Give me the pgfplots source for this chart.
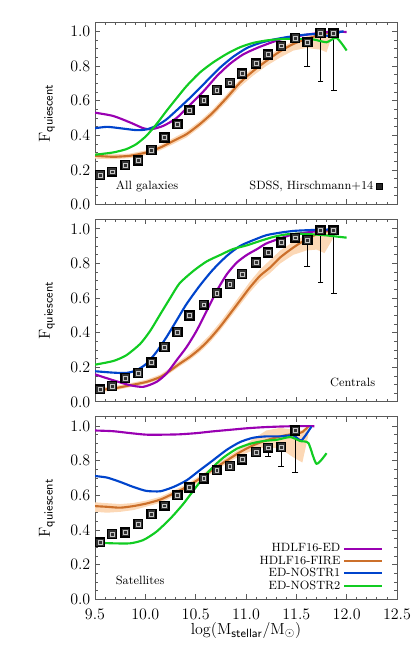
\documentclass[border=0pt]{standalone}
\usepackage{pgfplots}
\usepackage{pgfplotstable}
\pgfplotsset{compat=1.18}

\definecolor{cpurple}{RGB}{153,0,178}
\definecolor{corange}{RGB}{204,112,43}
\definecolor{cblue}{RGB}{0,68,204}
\definecolor{cgreen}{RGB}{17,204,34}
\definecolor{cband}{RGB}{252,216,182}

% SDSS points (Hirschmann+14): x, y, lower error
\pgfplotstableread{
x y em
9.55 0.171 0
9.67 0.190 0
9.80 0.228 0
9.93 0.255 0
10.06 0.315 0
10.19 0.387 0
10.32 0.464 0
10.44 0.545 0
10.58 0.602 0
10.71 0.662 0
10.84 0.704 0
10.96 0.758 0
11.10 0.815 0
11.22 0.867 0
11.35 0.917 0
11.49 0.963 0.02
11.61 0.938 0.138
11.74 0.991 0.282
11.87 0.990 0.328
}\sqall
\pgfplotstableread{
x y em
9.55 0.073 0
9.67 0.092 0
9.80 0.138 0
9.93 0.167 0
10.06 0.227 0
10.19 0.317 0
10.32 0.403 0
10.44 0.499 0
10.58 0.562 0
10.71 0.629 0
10.84 0.681 0
10.96 0.739 0
11.10 0.806 0
11.22 0.863 0
11.35 0.921 0
11.49 0.949 0.02
11.61 0.936 0.155
11.74 0.992 0.303
11.87 0.992 0.365
}\sqcen
\pgfplotstableread{
x y em
9.55 0.329 0
9.67 0.377 0
9.80 0.385 0
9.93 0.434 0
10.06 0.492 0
10.19 0.540 0
10.32 0.601 0
10.44 0.646 0
10.58 0.697 0
10.71 0.745 0
10.84 0.770 0
10.96 0.808 0
11.10 0.850 0.01
11.22 0.876 0.05
11.35 0.879 0.111
11.49 0.975 0.24
}\sqsat

\pgfplotsset{
  panel/.style={
    scale only axis, width=226.5pt, height=136.9pt,
    xmin=9.5, xmax=12.5, ymin=0, ymax=1.055,
    xtick={9.5,10,10.5,11,11.5,12,12.5},
    ytick={0,0.2,0.4,0.6,0.8,1.0},
    minor x tick num=4, minor y tick num=3,
    axis line style={black!65, line width=0.7pt},
    tick style={black!65, line width=0.6pt},
    major tick length=3.8pt, minor tick length=2pt,
    tick label style={font=\fontsize{12}{14}\selectfont},
    yticklabel style={/pgf/number format/fixed, /pgf/number format/precision=1,
      /pgf/number format/fixed zerofill},
    xticklabel style={/pgf/number format/fixed, /pgf/number format/precision=1,
      /pgf/number format/fixed zerofill, yshift=-4pt},
    ylabel={$\mathrm{F}_{\mathsf{quiescent}}$},
    every axis y label/.style={at={([xshift=-36pt]axis description cs:0,0.5)},
      rotate=90, anchor=center, font=\fontsize{12.5}{14}\selectfont},
    every axis x label/.style={at={([yshift=-23.4pt]axis description cs:0.5,0)},
      anchor=center, font=\fontsize{12.5}{14}\selectfont},
    legend plot pos=right,
  },
  sq/.style={only marks, mark=square*, mark size=3.3pt,
    mark options={fill=black!80, draw=black, line width=1.1pt},
    error bars/y dir=minus, error bars/y explicit,
    error bars/error mark=-,
    error bars/error bar style={black, line width=0.6pt},
    error bars/error mark options={black, rotate=90, mark size=2.2pt, line width=0.6pt}},
  sqin/.style={only marks, mark=square, mark size=1.4pt,
    mark options={draw=gray!45, line width=0.4pt}},
  mline/.style={line width=1.6pt, forget plot, smooth, tension=0.4},
}

\begin{document}
\begin{tikzpicture}
\useasboundingbox (0,0) rectangle (311.25pt,-495pt);

% ---------------- All galaxies
\begin{axis}[panel, at={(71.25pt,-16.5pt)}, anchor=north west, xticklabels={},
  legend style={draw=none, fill=none, at={(axis description cs:0.965,0.10)},
    anchor=east, font=\small},
  legend image code/.code={\draw[#1] plot coordinates {(0.15cm,0cm)};}]
\addplot[fill=cband, draw=none, forget plot] coordinates {
(9.50,0.297)(9.68,0.290)(9.85,0.295)(10.01,0.314)(10.15,0.345)(10.28,0.385)(10.41,0.425)
(10.54,0.482)(10.67,0.550)(10.81,0.638)(10.94,0.724)(11.07,0.792)(11.20,0.850)(11.34,0.905)
(11.47,0.945)(11.60,0.972)(11.74,0.992)(11.87,1.003)
(11.87,0.985)(11.84,0.95)(11.80,0.88)(11.74,0.895)(11.60,0.905)(11.47,0.89)(11.34,0.85)
(11.20,0.80)(11.07,0.745)(10.94,0.68)(10.81,0.596)(10.67,0.51)(10.54,0.445)(10.41,0.388)
(10.28,0.350)(10.15,0.314)(10.01,0.287)(9.85,0.268)(9.68,0.262)(9.50,0.265)} -- cycle;
\addplot[mline, corange] coordinates {
(9.50,0.282)(9.68,0.276)(9.85,0.282)(10.01,0.301)(10.15,0.330)(10.28,0.368)(10.41,0.407)
(10.54,0.464)(10.67,0.531)(10.81,0.618)(10.94,0.704)(11.07,0.771)(11.20,0.829)(11.34,0.886)
(11.47,0.928)(11.60,0.957)(11.74,0.982)(11.84,0.997)(11.87,1.0)};
\addplot[forget plot, sq] table[x=x, y=y, y error minus=em] {\sqall};
\addplot[forget plot, sqin] table[x=x, y=y] {\sqall};
\addplot[mline, cpurple] coordinates {
(9.50,0.531)(9.68,0.512)(9.85,0.474)(9.98,0.441)(10.06,0.435)(10.18,0.455)(10.31,0.50)
(10.44,0.574)(10.58,0.656)(10.71,0.742)(10.84,0.813)(10.97,0.867)(11.11,0.905)(11.24,0.934)
(11.37,0.959)(11.50,0.972)(11.64,0.985)(11.77,0.995)(11.87,1.0)(12.0,0.997)};
\addplot[mline, cblue] coordinates {
(9.50,0.441)(9.62,0.449)(9.75,0.441)(9.91,0.430)(10.01,0.434)(10.11,0.455)(10.21,0.492)
(10.34,0.560)(10.48,0.637)(10.61,0.714)(10.74,0.79)(10.87,0.853)(11.01,0.905)(11.14,0.934)
(11.27,0.953)(11.40,0.967)(11.53,0.978)(11.67,0.985)(11.80,0.976)(11.87,0.972)(11.93,0.997)(11.97,1.0)};
\addplot[mline, cgreen] coordinates {
(9.50,0.288)(9.68,0.301)(9.81,0.320)(9.91,0.349)(10.01,0.397)(10.11,0.464)(10.21,0.541)
(10.31,0.614)(10.41,0.685)(10.54,0.762)(10.67,0.82)(10.81,0.871)(10.94,0.909)(11.07,0.934)
(11.20,0.948)(11.34,0.956)(11.50,0.958)(11.67,0.954)(11.80,0.938)(11.90,0.963)(12.0,0.89)};
\addlegendimage{only marks, mark=square*, mark size=2.3pt, mark options={fill=black!85, draw=black}}
\addlegendentry{SDSS, Hirschmann+14}
\node[anchor=west, font=\small] at (axis cs:9.66,0.105) {All galaxies};
\end{axis}

% ---------------- Centrals
\begin{axis}[panel, at={(71.25pt,-164.5pt)}, anchor=north west, xticklabels={}]
\addplot[fill=cband, draw=none, forget plot] coordinates {
(9.50,0.08)(9.68,0.09)(9.85,0.108)(10.01,0.128)(10.15,0.158)(10.25,0.197)(10.34,0.237)
(10.44,0.278)(10.54,0.328)(10.64,0.388)(10.74,0.458)(10.84,0.535)(10.94,0.615)(11.04,0.695)
(11.14,0.765)(11.24,0.82)(11.34,0.875)(11.47,0.925)(11.60,0.965)(11.70,0.985)(11.78,0.992)(11.87,1.0)
(11.87,0.95)(11.78,0.86)(11.70,0.88)(11.60,0.875)(11.47,0.85)(11.34,0.80)(11.24,0.745)
(11.14,0.70)(11.04,0.635)(10.94,0.56)(10.84,0.485)(10.74,0.41)(10.64,0.343)(10.54,0.287)
(10.44,0.242)(10.34,0.205)(10.25,0.168)(10.15,0.132)(10.01,0.103)(9.85,0.085)(9.68,0.065)(9.50,0.055)} -- cycle;
\addplot[mline, corange] coordinates {
(9.50,0.067)(9.68,0.077)(9.85,0.096)(10.01,0.115)(10.15,0.144)(10.25,0.182)(10.34,0.22)
(10.44,0.259)(10.54,0.306)(10.64,0.364)(10.74,0.432)(10.84,0.508)(10.94,0.585)(11.04,0.662)
(11.14,0.729)(11.24,0.777)(11.34,0.835)(11.47,0.892)(11.60,0.94)(11.74,0.978)(11.87,0.992)};
\addplot[forget plot, sq] table[x=x, y=y, y error minus=em] {\sqcen};
\addplot[forget plot, sqin] table[x=x, y=y] {\sqcen};
\addplot[mline, cpurple] coordinates {
(9.50,0.159)(9.68,0.125)(9.85,0.096)(9.98,0.087)(10.11,0.115)(10.21,0.163)(10.31,0.240)
(10.41,0.317)(10.51,0.412)(10.61,0.527)(10.71,0.642)(10.81,0.738)(10.91,0.806)(11.01,0.850)
(11.11,0.883)(11.20,0.915)(11.34,0.945)(11.47,0.968)(11.64,0.982)(11.80,0.992)(11.90,0.992)};
\addplot[mline, cblue] coordinates {
(9.50,0.177)(9.68,0.169)(9.81,0.167)(9.91,0.182)(10.01,0.220)(10.11,0.288)(10.21,0.374)
(10.31,0.470)(10.41,0.566)(10.54,0.671)(10.67,0.763)(10.81,0.844)(10.94,0.901)(11.07,0.934)
(11.20,0.963)(11.34,0.978)(11.47,0.988)(11.60,0.992)(11.74,0.995)(11.90,0.997)};
\addplot[mline, cgreen] coordinates {
(9.50,0.215)(9.68,0.236)(9.81,0.269)(9.95,0.336)(10.05,0.412)(10.15,0.508)(10.25,0.603)
(10.34,0.685)(10.48,0.758)(10.61,0.812)(10.74,0.848)(10.87,0.883)(11.01,0.905)(11.14,0.930)
(11.27,0.953)(11.40,0.968)(11.53,0.972)(11.67,0.968)(11.80,0.962)(12.0,0.949)};
\node[anchor=east, font=\small] at (axis cs:12.33,0.11) {Centrals};
\end{axis}

% ---------------- Satellites
\begin{axis}[panel, at={(71.25pt,-312.5pt)}, anchor=north west,
  xlabel={$\log(\mathrm{M}_{\mathsf{stellar}}/\mathrm{M}_{\odot})$},
  legend style={draw=none, fill=none, at={(axis description cs:0.955,0.32)},
    anchor=north east, font=\small, row sep=-2.5pt, inner sep=0pt},
  legend cell align=right,
  legend image code/.code={\draw[#1] (0cm,0cm) -- (1cm,0cm);}]
\addplot[fill=cband, draw=none, forget plot] coordinates {
(9.50,0.56)(9.62,0.555)(9.75,0.55)(9.88,0.556)(10.01,0.57)(10.15,0.592)(10.28,0.627)
(10.41,0.665)(10.54,0.713)(10.67,0.765)(10.81,0.82)(10.94,0.87)(11.07,0.925)(11.20,0.975)
(11.34,0.99)(11.47,0.98)(11.56,0.975)(11.62,1.0)
(11.62,0.95)(11.56,0.79)(11.47,0.82)(11.34,0.87)(11.20,0.88)(11.07,0.86)(10.94,0.83)
(10.81,0.785)(10.67,0.732)(10.54,0.68)(10.41,0.632)(10.28,0.594)(10.15,0.558)(10.01,0.535)
(9.88,0.515)(9.75,0.505)(9.62,0.50)(9.50,0.505)} -- cycle;
\addplot[mline, corange] coordinates {
(9.50,0.538)(9.62,0.534)(9.75,0.529)(9.88,0.538)(10.01,0.553)(10.15,0.576)(10.28,0.611)
(10.41,0.649)(10.54,0.697)(10.67,0.749)(10.81,0.802)(10.94,0.85)(11.07,0.889)(11.20,0.918)
(11.34,0.941)(11.47,0.956)(11.53,0.96)(11.56,0.966)(11.62,0.998)};
\addplot[forget plot, sq] table[x=x, y=y, y error minus=em] {\sqsat};
\addplot[forget plot, sqin] table[x=x, y=y] {\sqsat};
\addplot[mline, cpurple] coordinates {
(9.50,0.975)(9.68,0.971)(9.85,0.96)(10.01,0.951)(10.18,0.951)(10.34,0.953)(10.51,0.96)
(10.67,0.97)(10.84,0.979)(11.01,0.988)(11.17,0.994)(11.34,0.998)(11.50,1.0)(11.68,1.0)};
\addplot[mline, cblue] coordinates {
(9.50,0.712)(9.62,0.703)(9.75,0.678)(9.88,0.649)(10.01,0.626)(10.15,0.624)(10.28,0.649)
(10.41,0.687)(10.54,0.745)(10.67,0.802)(10.81,0.864)(10.94,0.908)(11.07,0.933)(11.20,0.941)
(11.34,0.941)(11.47,0.947)(11.55,0.918)(11.65,0.998)};
\addplot[mline, cgreen] coordinates {
(9.50,0.327)(9.68,0.323)(9.85,0.323)(9.98,0.342)(10.11,0.39)(10.25,0.467)(10.38,0.553)
(10.51,0.653)(10.64,0.745)(10.77,0.816)(10.91,0.87)(11.04,0.898)(11.17,0.914)(11.31,0.922)
(11.44,0.937)(11.54,0.914)(11.62,0.902)(11.70,0.783)(11.80,0.844)};
\addlegendimage{cpurple, line width=1.6pt}
\addlegendentry{HDLF16-ED}
\addlegendimage{corange, line width=1.6pt}
\addlegendentry{HDLF16-FIRE}
\addlegendimage{cblue, line width=1.6pt}
\addlegendentry{ED-NOSTR1}
\addlegendimage{cgreen, line width=1.6pt}
\addlegendentry{ED-NOSTR2}
\node[anchor=west, font=\small] at (axis cs:9.66,0.106) {Satellites};
\end{axis}
\end{tikzpicture}
\end{document}
